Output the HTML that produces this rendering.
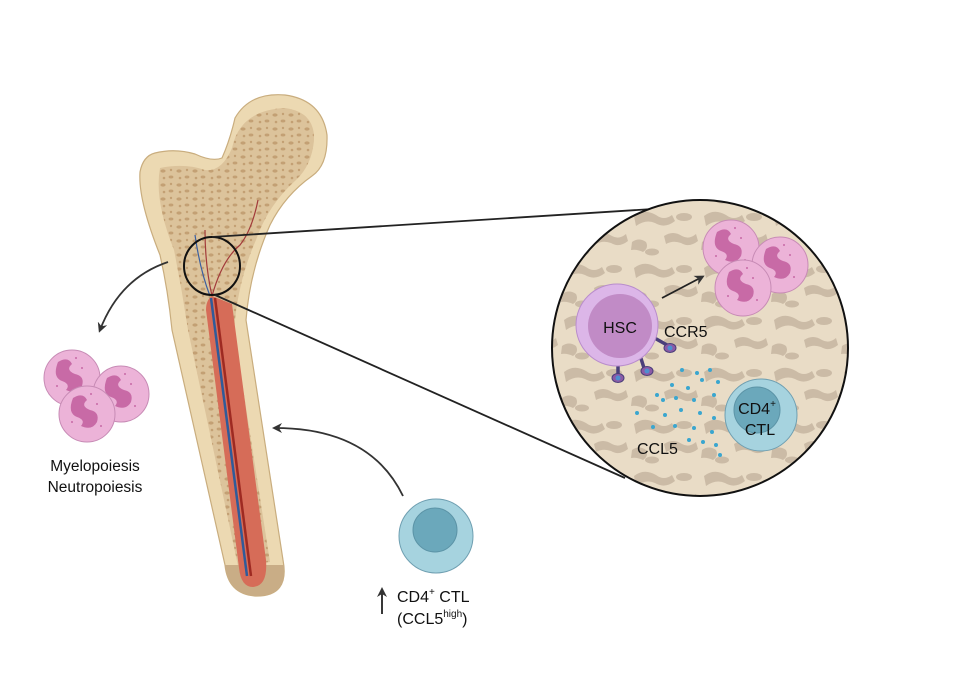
<!DOCTYPE html>
<html><head><meta charset="utf-8"><style>
html,body{margin:0;padding:0;background:#fff;}
svg{display:block;font-family:"Liberation Sans",Arial,sans-serif;}
</style></head><body>
<svg width="980" height="688" viewBox="0 0 980 688" xmlns="http://www.w3.org/2000/svg">
<defs>
<pattern id="spong" width="16" height="14" patternUnits="userSpaceOnUse">
<rect width="16" height="14" fill="#dcc39b"/>
<ellipse cx="3" cy="3" rx="2.6" ry="1.6" fill="#c3a074"/>
<ellipse cx="11" cy="9" rx="2.4" ry="1.5" fill="#c3a074"/>
<circle cx="11" cy="2" r="1.2" fill="#c3a074"/>
<circle cx="4" cy="10" r="1.3" fill="#c3a074"/>
</pattern>
<pattern id="tissue" width="70" height="52" patternUnits="userSpaceOnUse">
<rect width="70" height="52" fill="#e9dcc6"/>
<path d="M4 8 q10-8 22 -1 q8 6 16 0 l3 6 q-10 8-20 2 q-9-4-19 3z" fill="#cbbba6"/>
<path d="M34 28 q9-6 18 0 q7 4 14-2 l2 7 q-9 7-17 2 q-8-3-15 1z" fill="#cbbba6"/>
<path d="M2 34 q7-5 14 0 q3 6-3 10 q-6-3-12-2z" fill="#cbbba6"/>
<ellipse cx="54" cy="9" rx="8" ry="4" fill="#cbbba6"/>
<ellipse cx="22" cy="44" rx="7" ry="3.5" fill="#cbbba6"/>
</pattern>
<clipPath id="bigc"><circle cx="700" cy="348" r="148"/></clipPath>
<clipPath id="bonec"><path id="bp" d="M155 153 Q175 148 195 154 Q212 162 222 158 Q230 140 235 118 Q250 92 285 95 Q322 100 327 135 Q328 165 312 176 Q285 195 270 225 Q250 270 246 320 L283 560 Q290 597 255 596 Q228 594 225 565 L172 330 Q168 290 160 255 Q138 200 140 172 Q143 156 155 153Z"/></clipPath>
<marker id="ah" markerWidth="10" markerHeight="10" refX="7" refY="5" orient="auto" markerUnits="userSpaceOnUse"><path d="M0 0 L10 5 L0 10 L3 5Z" fill="#333"/></marker>
<g id="neut">
<circle r="28" fill="#ecb3d8" stroke="#c78bb5" stroke-width="1"/>
<path d="M-14 -16 q10 -6 14 2 q-7 6 3 10 q10 2 7 12 q-5 9 -16 4 q5 -6 -4 -9 q-10 -4 -4 -19z" fill="#c86aa6"/>
<circle cx="10" cy="-10" r="1" fill="#c86aa6"/><circle cx="-15" cy="8" r="1" fill="#c86aa6"/><circle cx="14" cy="12" r="1" fill="#c86aa6"/><circle cx="4" cy="-20" r="1" fill="#c86aa6"/>
</g>
</defs>

<!-- bone -->
<use href="#bp" fill="#ecd9b2" stroke="#c9ad7e" stroke-width="1.2"/>
<g clip-path="url(#bonec)">
<path d="M160 168 Q185 163 205 170 Q222 172 232 148 Q240 110 285 108 Q315 112 314 140 Q312 165 296 180 Q268 205 256 240 Q238 280 234 330 L270 562 L238 566 L188 330 Q182 290 174 250 Q154 200 160 168Z" fill="url(#spong)"/>
<rect x="150" y="565" width="160" height="40" fill="#c9ad86"/>
<path d="M212 296 Q222 300 232 304 L266 560 Q268 586 253 587 Q241 587 239 568 L206 310 Q206 300 212 296Z" fill="#d66c58"/>
<path d="M215 298 L251 576" stroke="#9e2a22" stroke-width="2.5"/>
<path d="M211 298 L247 576" stroke="#2f5b9a" stroke-width="2.5"/>
<path d="M212 296 Q205 265 205 230 M212 296 Q222 260 240 245 Q252 230 258 200" stroke="#a23a3a" stroke-width="1.2" fill="none"/>
<path d="M210 296 Q200 270 195 235" stroke="#3b5fa0" stroke-width="1.2" fill="none"/>
</g>
<ellipse cx="212" cy="266" rx="28" ry="29" fill="none" stroke="#111" stroke-width="2"/>
<line x1="212" y1="237" x2="700" y2="206" stroke="#222" stroke-width="1.8"/>
<line x1="215" y1="295" x2="625" y2="478" stroke="#222" stroke-width="1.8"/>

<!-- big circle -->
<circle cx="700" cy="348" r="148" fill="url(#tissue)"/>
<g clip-path="url(#bigc)">
<g fill="#3aa6cf">
<circle cx="682" cy="370" r="2"/><circle cx="697" cy="373" r="2"/><circle cx="710" cy="370" r="2"/><circle cx="672" cy="385" r="2"/><circle cx="688" cy="388" r="2"/><circle cx="702" cy="380" r="2"/><circle cx="657" cy="395" r="2"/><circle cx="676" cy="398" r="2"/><circle cx="694" cy="400" r="2"/><circle cx="714" cy="395" r="2"/><circle cx="637" cy="413" r="2"/><circle cx="665" cy="415" r="2"/><circle cx="681" cy="410" r="2"/><circle cx="700" cy="413" r="2"/><circle cx="714" cy="418" r="2"/><circle cx="653" cy="427" r="2"/><circle cx="675" cy="426" r="2"/><circle cx="694" cy="428" r="2"/><circle cx="712" cy="432" r="2"/><circle cx="689" cy="440" r="2"/><circle cx="703" cy="442" r="2"/><circle cx="716" cy="445" r="2"/><circle cx="720" cy="455" r="2"/><circle cx="663" cy="400" r="2"/><circle cx="718" cy="382" r="2"/>
</g>
<circle cx="761" cy="415" r="36" fill="#a6d3df" stroke="#6f9fb1" stroke-width="1"/>
<circle cx="757" cy="410" r="23" fill="#6ba8bb" stroke="#5c94a7" stroke-width="1"/>
<use href="#neut" x="731" y="248"/>
<use href="#neut" x="780" y="265"/>
<use href="#neut" x="743" y="288"/>
<line x1="662" y1="298" x2="702" y2="277" stroke="#222" stroke-width="1.8" marker-end="url(#ah)"/>
<g stroke="#4a3f7a" stroke-width="3.5">
<line x1="651" y1="336" x2="667" y2="345"/><line x1="618" y1="352" x2="618" y2="374"/><line x1="638" y1="349" x2="644" y2="368"/>
</g>
<circle cx="617" cy="325" r="41" fill="#dcb6e8" stroke="#b98dcc" stroke-width="1"/>
<circle cx="620" cy="326" r="32" fill="#c18bc6"/>
<g fill="#8b5aa6" stroke="#4a3f7a" stroke-width="1"><ellipse cx="670" cy="348" rx="6" ry="4.5"/><ellipse cx="618" cy="378" rx="6" ry="4.5"/><ellipse cx="647" cy="371" rx="6" ry="4.5"/></g>
<g fill="#4d8fd0"><circle cx="670" cy="348" r="2.5"/><circle cx="618" cy="378" r="2.5"/><circle cx="647" cy="371" r="2.5"/></g>
<text x="620" y="333" font-size="16" text-anchor="middle" fill="#111">HSC</text>
<text x="664" y="337" font-size="16" fill="#111">CCR5</text>
<text x="637" y="454" font-size="16" fill="#111">CCL5</text>
<text x="757" y="414" font-size="16" text-anchor="middle" fill="#111">CD4<tspan font-size="10" dy="-7">+</tspan></text>
<text x="760" y="435" font-size="16" text-anchor="middle" fill="#111">CTL</text>
</g>
<circle cx="700" cy="348" r="148" fill="none" stroke="#111" stroke-width="2"/>

<!-- left neutrophils -->
<use href="#neut" x="72" y="378"/>
<use href="#neut" x="121" y="394"/>
<use href="#neut" x="87" y="414"/>
<text x="95" y="471" font-size="15.5" text-anchor="middle" fill="#111">Myelopoiesis</text>
<text x="95" y="492" font-size="15.5" text-anchor="middle" fill="#111">Neutropoiesis</text>
<path d="M168 262 Q120 278 100 330" fill="none" stroke="#333" stroke-width="1.8" marker-end="url(#ah)"/>

<!-- CTL bottom -->
<path d="M403 496 Q370 428 275 428" fill="none" stroke="#333" stroke-width="1.8" marker-end="url(#ah)"/>
<circle cx="436" cy="536" r="37" fill="#a6d3df" stroke="#6f9fb1" stroke-width="1"/>
<circle cx="435" cy="530" r="22" fill="#6ba8bb" stroke="#5c94a7" stroke-width="1"/>
<line x1="382" y1="614" x2="382" y2="590" stroke="#222" stroke-width="1.8" marker-end="url(#ah)"/>
<text x="397" y="602" font-size="16" fill="#111">CD4<tspan font-size="10" dy="-7">+</tspan><tspan dy="7"> CTL</tspan></text>
<text x="397" y="624" font-size="16" fill="#111">(CCL5<tspan font-size="10" dy="-7">high</tspan><tspan dy="7">)</tspan></text>
</svg>
</body></html>
